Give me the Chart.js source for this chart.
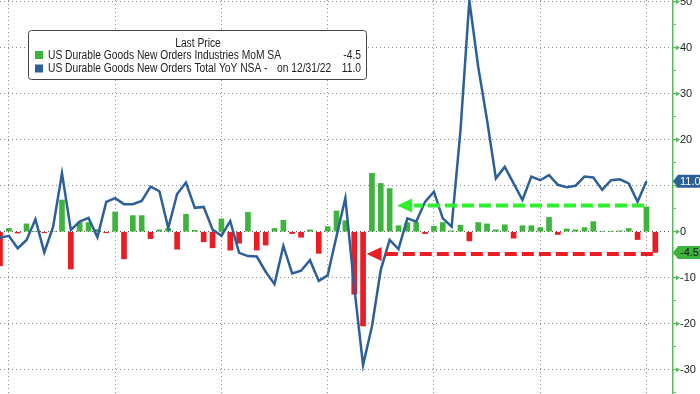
<!DOCTYPE html>
<html>
<head>
<meta charset="utf-8">
<script src="https://cdn.jsdelivr.net/npm/chart.js@4.4.0/dist/chart.umd.min.js"></script>
<style>
  html, body { margin: 0; padding: 0; background: #fff; }
  #wrap { width: 700px; height: 394px; }
</style>
</head>
<body>
<div id="wrap"><canvas id="myChart" width="700" height="394"></canvas></div>
<script>
// meses (the last two are empty room before the right axis)
const meses = [
  "Nov 2016", "Dec 2016",
  "Jan 2017", "Feb 2017", "Mar 2017", "Apr 2017", "May 2017", "Jun 2017", "Jul 2017", "Aug 2017", "Sep 2017", "Oct 2017", "Nov 2017", "Dec 2017",
  "Jan 2018", "Feb 2018", "Mar 2018", "Apr 2018", "May 2018", "Jun 2018", "Jul 2018", "Aug 2018", "Sep 2018", "Oct 2018", "Nov 2018", "Dec 2018",
  "Jan 2019", "Feb 2019", "Mar 2019", "Apr 2019", "May 2019", "Jun 2019", "Jul 2019", "Aug 2019", "Sep 2019", "Oct 2019", "Nov 2019", "Dec 2019",
  "Jan 2020", "Feb 2020", "Mar 2020", "Apr 2020", "May 2020", "Jun 2020", "Jul 2020", "Aug 2020", "Sep 2020", "Oct 2020", "Nov 2020", "Dec 2020",
  "Jan 2021", "Feb 2021", "Mar 2021", "Apr 2021", "May 2021", "Jun 2021", "Jul 2021", "Aug 2021", "Sep 2021", "Oct 2021", "Nov 2021", "Dec 2021",
  "Jan 2022", "Feb 2022", "Mar 2022", "Apr 2022", "May 2022", "Jun 2022", "Jul 2022", "Aug 2022", "Sep 2022", "Oct 2022", "Nov 2022", "Dec 2022",
  "Jan 2023", "Feb 2023", "Mar 2023"
];

// Durable goods MoM SA (bars)
const pedidosMoM = [
  -7.4, 0.7,
  -0.3, 1.7, 0.1, -0.2, 0.1, 6.9, -8.1, 2.0, 2.0, 0.5, -0.2, 4.3,
  -5.9, 3.5, 3.5, -1.5, 0.4, 0.7, -3.8, 3.8, 0.3, -2.2, -3.5, 2.8,
  -4.0, -2.5, 4.2, -4.0, -2.9, 0.7, 2.5, -0.4, -1.2, 0.4, -4.7, 1.1,
  4.5, 2.4, -13.6, -20.5, 12.7, 10.5, 9.4, 1.3, 2.0, 2.0, -0.4, 1.2,
  2.0, 0.2, 1.4, -2.0, 2.0, 1.7, 0.4, 1.5, -1.4, 1.3, 1.3, 0.9,
  3.1, -0.6, 0.6, 0.4, 0.9, 2.2, 0.1, 0.1, 0.2, 0.7, -1.7, 5.4,
  -4.5, null, null
];

// Durable goods total YoY NSA (line)
const pedidosYoY = [
  -1.3, -0.9,
  -3.6, -1.8, 2.7, -4.5, 1.1, 12.7, 0.4, 2.2, 3.0, -1.2, 6.5, 7.3,
  6.0, 6.0, 6.7, 9.8, 8.8, 0.8, 8.2, 10.7, 5.2, 5.4, 0.5, -0.9,
  2.3, -4.6, -5.3, -5.4, -8.7, -11.4, -3.1, -9.1, -8.5, -6.2, -10.7, -9.5,
  -1.0, 7.3, -12.0, -29.0, -20.6, -8.3, -1.8, -3.8, 2.9, 2.2, 6.5, 8.7,
  2.9, 1.1, 22.0, 50.3, 35.9, 24.3, 11.6, 14.1, 10.5, 6.9, 12.0, 11.2,
  12.3, 10.2, 9.7, 10.0, 12.0, 11.8, 9.1, 11.2, 11.4, 10.5, 6.5, 11.0,
  null, null, null
];

const etiquetasY = [50, 40, 30, 20, 10, 0, -10, -20, -30];
const marcasMenores = [45, 35, 25, 15, 5, -5, -15, -25, -35];
const nombres = [
  "US Durable Goods New Orders Industries MoM SA",
  "US Durable Goods New Orders Total YoY NSA -"
];
const fechaUltimo = "on 12/31/22";

// where the two arrows point to (category index)
const puntaVerde = 44.85;
const puntaRoja = 41.4;

const verde = "#3db53d";
const rojo = "#ec1c24";
const azul = "#2d5f99";
const verdeEje = "#5cb85c";
const flechaVerde = "#2ef02e";
const fuente = "'Liberation Sans Narrow', 'Liberation Sans', sans-serif";

function ultimo(arr) {
  for (let i = arr.length - 1; i >= 0; i--) if (arr[i] !== null) return i;
  return -1;
}
const iBarra = ultimo(pedidosMoM);
const iLinea = ultimo(pedidosYoY);
const valoresTag = [pedidosYoY[iLinea], pedidosMoM[iBarra]];

function flecha(ctx, xIni, xPunta, y, color) {
  ctx.save();
  ctx.strokeStyle = color;
  ctx.fillStyle = color;
  ctx.lineWidth = 4;
  ctx.setLineDash([12, 5]);
  ctx.beginPath();
  ctx.moveTo(xIni, y);
  ctx.lineTo(xPunta + 17, y);
  ctx.stroke();
  ctx.setLineDash([]);
  ctx.beginPath();
  ctx.moveTo(xPunta, y);
  ctx.lineTo(xPunta + 15, y - 7);
  ctx.lineTo(xPunta + 15, y + 7);
  ctx.closePath();
  ctx.fill();
  ctx.restore();
}

function etiqueta(ctx, x, y, texto, fondo, colorTexto) {
  const h = 13, punta = 5, der = 700;
  ctx.save();
  ctx.fillStyle = fondo;
  ctx.beginPath();
  ctx.moveTo(x, y);
  ctx.lineTo(x + punta, y - h / 2);
  ctx.lineTo(der, y - h / 2);
  ctx.lineTo(der, y + h / 2);
  ctx.lineTo(x + punta, y + h / 2);
  ctx.closePath();
  ctx.fill();
  ctx.fillStyle = colorTexto;
  ctx.font = "11px " + fuente;
  ctx.textAlign = "left";
  ctx.textBaseline = "middle";
  ctx.fillText(texto, x + 7, y + 0.5);
  ctx.restore();
}

function texto(ctx, t, x, y, alin, escala) {
  ctx.save();
  ctx.translate(x, y);
  ctx.scale(escala, 1);
  ctx.textAlign = alin;
  ctx.fillText(t, 0, 0);
  ctx.restore();
}

const extras = {
  id: "extras",
  afterDatasetsDraw(chart) {
    const ctx = chart.ctx;
    const sx = chart.scales.x, sy = chart.scales.y;
    const medio = 2.5;
    // green arrow from the last positive bar, red from the last bar
    const iVerde = iBarra - 1;
    flecha(ctx, sx.getPixelForValue(iVerde) - medio, sx.getPixelForValue(puntaVerde),
      sy.getPixelForValue(pedidosMoM[iVerde]) - 1.5, flechaVerde);
    flecha(ctx, sx.getPixelForValue(iBarra) - medio, sx.getPixelForValue(puntaRoja),
      sy.getPixelForValue(pedidosMoM[iBarra]) + 1.5, rojo);
  },
  afterDraw(chart) {
    const ctx = chart.ctx;
    const sy = chart.scales.y;
    const xEje = chart.chartArea.right;

    // major tick arrows on the right axis
    ctx.save();
    ctx.fillStyle = verdeEje;
    ctx.strokeStyle = verdeEje;
    etiquetasY.forEach((v) => {
      const y = sy.getPixelForValue(v);
      ctx.beginPath();
      ctx.moveTo(xEje, y);
      ctx.lineTo(xEje + 4, y);
      ctx.stroke();
      ctx.beginPath();
      ctx.moveTo(xEje + 3, y - 2.5);
      ctx.lineTo(xEje + 7, y);
      ctx.lineTo(xEje + 3, y + 2.5);
      ctx.closePath();
      ctx.fill();
    });
    ctx.restore();

    // last value tags
    etiqueta(ctx, xEje, sy.getPixelForValue(valoresTag[0]), valoresTag[0].toFixed(1), azul, "#fff");
    etiqueta(ctx, xEje, sy.getPixelForValue(valoresTag[1]), valoresTag[1].toFixed(1), verde, "#111");

    // legend box
    ctx.save();
    ctx.fillStyle = "#fff";
    ctx.strokeStyle = "#444";
    ctx.lineWidth = 1;
    ctx.beginPath();
    ctx.roundRect(28.5, 30.5, 338, 49, 3);
    ctx.fill();
    ctx.stroke();

    ctx.font = "12px " + fuente;
    ctx.fillStyle = "#222";
    ctx.textBaseline = "middle";
    const escala = 233 / ctx.measureText(nombres[0]).width;
    texto(ctx, "Last Price", 198, 44, "center", escala);
    ctx.fillStyle = verde;
    ctx.fillRect(35, 51, 8, 8);
    ctx.fillStyle = azul;
    ctx.fillRect(35, 64.5, 8, 8);
    ctx.fillStyle = "#222";
    texto(ctx, nombres[0], 48, 56, "left", escala);
    texto(ctx, pedidosMoM[iBarra].toFixed(1), 361, 56, "right", escala);
    texto(ctx, nombres[1], 48, 69, "left", escala);
    texto(ctx, fechaUltimo, 277, 69, "left", escala);
    texto(ctx, pedidosYoY[iLinea].toFixed(1), 361, 69, "right", escala);
    ctx.restore();
  }
};

const ctx = document.getElementById("myChart");

const myChart = new Chart(ctx, {
  type: "bar",
  data: {
    labels: meses,
    datasets: [
      {
        type: "line",
        label: "US Durable Goods New Orders Total YoY NSA",
        data: pedidosYoY,
        borderColor: azul,
        borderWidth: 2.5,
        pointRadius: 0,
        tension: 0,
        order: 0,
      },
      {
        type: "bar",
        label: "US Durable Goods New Orders Industries MoM SA",
        data: pedidosMoM,
        backgroundColor: (c) => (c.raw !== null && c.raw < 0 ? rojo : verde),
        barThickness: 5,
        order: 1,
      },
    ],
  },
  options: {
    responsive: false,
    animation: false,
    layout: { padding: 0 },
    plugins: {
      legend: { display: false },
      tooltip: { enabled: false },
    },
    scales: {
      x: {
        offset: false,
        afterFit: (s) => {
          s.height = 0;
          s.paddingLeft = 0;
          s.paddingRight = 0;
        },
        ticks: { display: false, autoSkip: false },
        border: { display: false, dash: [1, 3] },
        grid: {
          offset: false,
          drawTicks: false,
          color: (c) =>
            meses[c.tick.value] && meses[c.tick.value].startsWith("Dec") ? "#8a8a8a" : "rgba(0,0,0,0)",
        },
      },
      y: {
        position: "right",
        min: -35.3,
        max: 50.4,
        bounds: "data",
        afterBuildTicks: (s) => {
          s.ticks = etiquetasY.concat(marcasMenores)
            .sort((a, b) => a - b)
            .map((v) => ({ value: v }));
        },
        afterFit: (s) => {
          s.width = 27;
          s.paddingTop = 0;
          s.paddingBottom = 0;
        },
        border: { display: true, color: verdeEje, width: 1.5, dash: [1, 3] },
        grid: {
          color: (c) => {
            const v = c.tick.value;
            if (!etiquetasY.includes(v)) return "rgba(0,0,0,0)";
            return v === 0 ? "#555" : "#8a8a8a";
          },
          lineWidth: 1,
          drawTicks: true,
          tickLength: 3,
          tickColor: verdeEje,
          tickBorderDash: [],
        },
        ticks: {
          autoSkip: false,
          padding: 4,
          color: "#222",
          font: { family: fuente, size: 11 },
          callback: (v) => {
            if (!etiquetasY.includes(v)) return "";
            if (valoresTag.some((t) => Math.abs(t - v) < 3.5)) return "";
            return String(v);
          },
        },
      },
    },
  },
  plugins: [extras],
});
</script>
</body>
</html>
